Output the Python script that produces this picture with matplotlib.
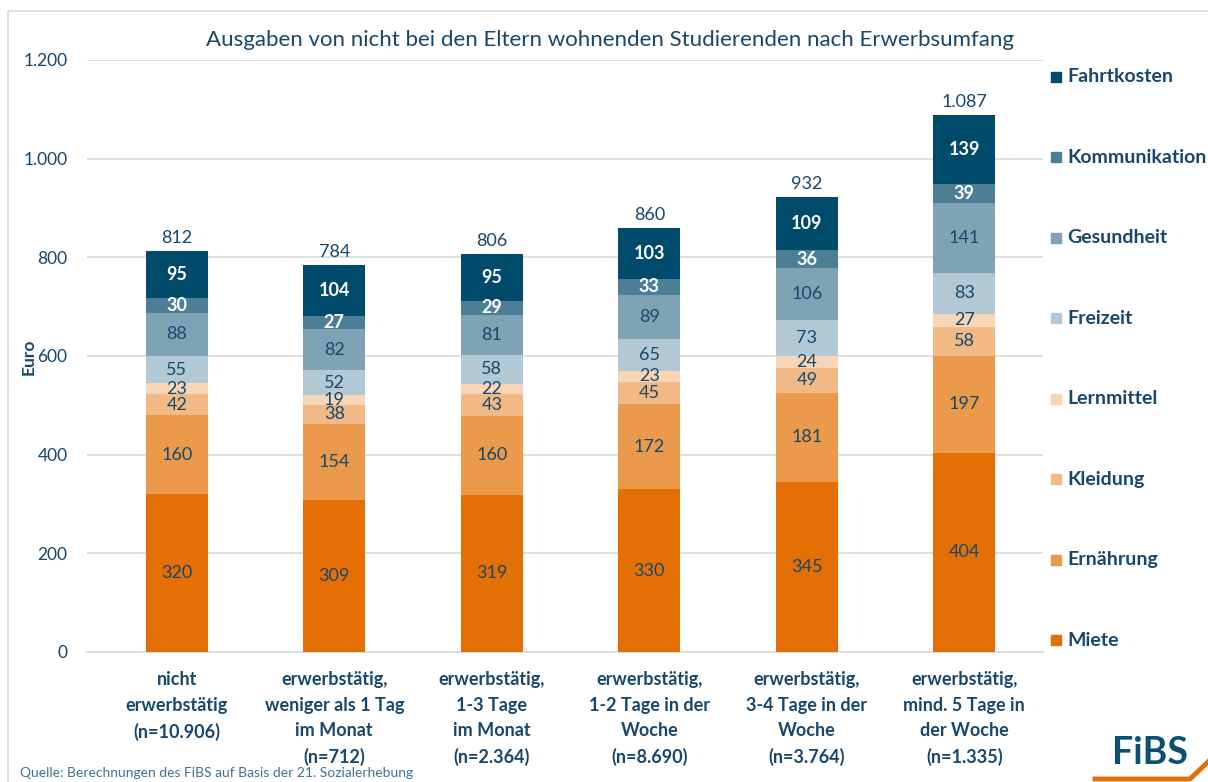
import matplotlib
matplotlib.use("Agg")
import matplotlib.pyplot as plt
from matplotlib.patches import Rectangle
from matplotlib.lines import Line2D
import numpy as np

plt.rcParams['font.family'] = ['Lato', 'DejaVu Sans']

categories = [
    "nicht\nerwerbstätig\n(n=10.906)",
    "erwerbstätig,\nweniger als 1 Tag\nim Monat\n(n=712)",
    "erwerbstätig,\n1-3 Tage\nim Monat\n(n=2.364)",
    "erwerbstätig,\n1-2 Tage in der\nWoche\n(n=8.690)",
    "erwerbstätig,\n3-4 Tage in der\nWoche\n(n=3.764)",
    "erwerbstätig,\nmind. 5 Tage in\nder Woche\n(n=1.335)",
]
series_names = ["Miete", "Ernährung", "Kleidung", "Lernmittel",
                "Freizeit", "Gesundheit", "Kommunikation", "Fahrtkosten"]
miete = [320, 309, 319, 330, 345, 404]
ernaehrung = [160, 154, 160, 172, 181, 197]
kleidung = [42, 38, 43, 45, 49, 58]
lernmittel = [23, 19, 22, 23, 24, 27]
freizeit = [55, 52, 58, 65, 73, 83]
gesundheit = [88, 82, 81, 89, 106, 141]
kommunikation = [30, 27, 29, 33, 36, 39]
fahrtkosten = [95, 104, 95, 103, 109, 139]
totals = [812, 784, 806, 860, 932, 1087]
yticks = [0, 200, 400, 600, 800, 1000, 1200]

series = [miete, ernaehrung, kleidung, lernmittel, freizeit,
          gesundheit, kommunikation, fahrtkosten]
colors = ["#E36F05", "#EA9A4A", "#F0B985", "#F7D6B8",
          "#B2C9D5", "#7FA2B5", "#4C7E96", "#004A6C"]
label_colors = ["#17476B"] * 6 + ["white", "white"]
dark = "#17476B"

def fmt(v):
    return f"{v:,}".replace(",", ".")

fig = plt.figure(figsize=(12.08, 7.82), dpi=100)
ax = fig.add_axes([87/1208, 1-652/782, (1043-87)/1208, (652-60)/782])

x = np.arange(len(categories))
bottom = np.zeros(len(categories))
for vals, c, lc in zip(series, colors, label_colors):
    vals = np.array(vals, dtype=float)
    ax.bar(x, vals, bottom=bottom, width=0.395, color=c, zorder=3)
    for xi, b, v in zip(x, bottom, vals):
        ax.text(xi, b + v/2, str(int(v)), ha='center', va='center',
                color=lc, fontsize=13,
                fontweight='bold' if lc == 'white' else 'normal', zorder=4)
    bottom += vals

for xi, t, b in zip(x, totals, bottom):
    ax.text(xi, b + 10, fmt(t), ha='center', va='bottom', color=dark,
            fontsize=13)

ax.set_xlim(-0.57, 5.5)
ax.set_ylim(0, 1200)
ax.set_yticks(yticks)
ax.set_yticklabels([fmt(v) for v in yticks], color=dark, fontsize=12.5)
ax.set_xticks(x)
ax.set_xticklabels(categories, color=dark, fontsize=13, fontweight='bold',
                   linespacing=1.6)
ax.tick_params(axis='both', length=0)
ax.tick_params(axis='y', pad=14)
ax.tick_params(axis='x', pad=14)
ax.grid(axis='y', color='#D9D9D9', lw=1.2, zorder=0)
for s in ['top', 'right', 'left']:
    ax.spines[s].set_visible(False)
ax.spines['bottom'].set_color('#D9D9D9')
ax.spines['bottom'].set_linewidth(1.2)

fig.text(29/1208, 1-357/782, "Euro", rotation=90, ha='center', va='center',
         color=dark, fontsize=12.5, fontweight='bold')

fig.text(610/1208, 1-40/782,
         "Ausgaben von nicht bei den Eltern wohnenden Studierenden nach Erwerbsumfang",
         ha='center', va='center', color=dark, fontsize=16)

# legend (top = Fahrtkosten)
ys = np.linspace(77, 640, len(series_names))
for name, c, yy in zip(series_names[::-1], colors[::-1], ys):
    fig.patches.append(Rectangle((1051/1208, 1-(yy+5)/782), 10/1208, 10/782,
                                 transform=fig.transFigure, color=c))
    fig.text(1067/1208, 1-yy/782, name, ha='left', va='center',
             color=dark, fontsize=14, fontweight='bold')

# border
fig.patches.append(Rectangle((8/1208, -0.05), 1.2, 1-11/782 + 0.05,
                             transform=fig.transFigure, fill=False,
                             edgecolor='#DADADA', lw=1.2))

fig.text(20/1208, 1-773/782,
         "Quelle: Berechnungen des FiBS auf Basis der 21. Sozialerhebung",
         ha='left', va='center', color='#3E7391', fontsize=10)

# logo
fig.text(1150/1208, 1-753/782, "FiBS", ha='center', va='center',
         color='#0B4F71', fontsize=27, fontweight='bold')
fig.lines.append(Line2D([1095/1208, 1190/1208, 1210/1208],
                        [1-779/782, 1-779/782, 1-760/782],
                        transform=fig.transFigure, color='#E36F05', lw=3.5))

fig.savefig("out.png", dpi=100, facecolor='white')
